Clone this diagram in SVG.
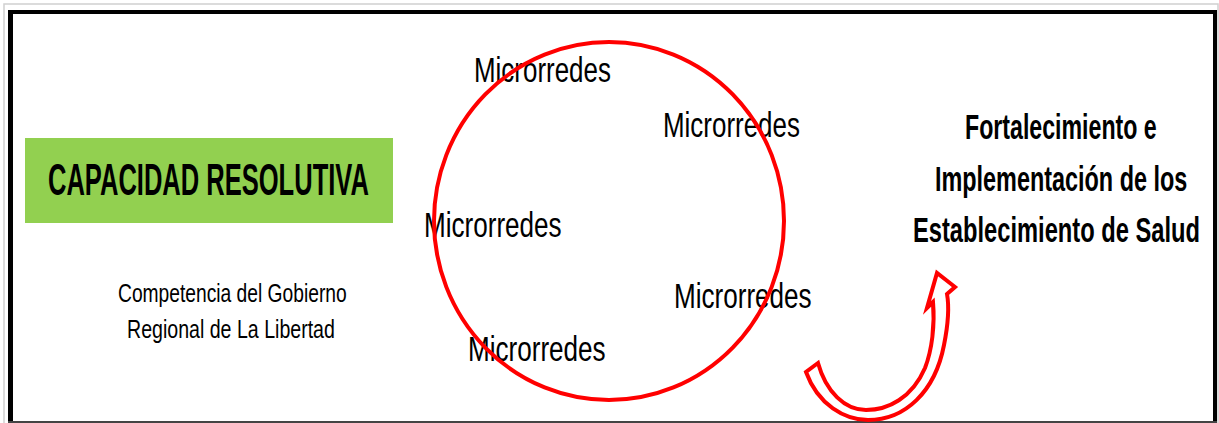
<svg xmlns="http://www.w3.org/2000/svg" width="1219" height="423" viewBox="0 0 1219 423">
<style>
text{font-family:"Liberation Sans","Liberation Sans Narrow",Arial,sans-serif;fill:#000}
.micro{font-size:35px}
.bold{font-size:35px;font-weight:bold}
.small{font-size:25px}
.title{font-size:44px;font-weight:bold}
</style>
<rect x="0" y="0" width="1219" height="423" fill="#fff"/>
<g id="frame">
<rect x="4" y="4" width="1214" height="420" fill="none" stroke="#d0d0d0" stroke-width="1.5"/>
<rect x="8" y="10" width="5" height="413" fill="#000"/>
<rect x="8" y="10" width="1209" height="4" fill="#000"/>
<rect x="1213" y="10" width="4" height="413" fill="#000"/>
<rect x="8" y="421" width="1209" height="2" fill="#444"/>
</g>
<g id="capacidad">
<rect x="25" y="138" width="368" height="85" fill="#92D050"/>
<text class="title" transform="translate(48,195) scale(0.573,1)" textLength="560" lengthAdjust="spacingAndGlyphs">CAPACIDAD RESOLUTIVA</text>
</g>
<g id="competencia">
<text class="small" transform="translate(118,302) scale(0.77,1)" textLength="297" lengthAdjust="spacingAndGlyphs">Competencia del Gobierno</text>
<text class="small" transform="translate(127,338) scale(0.77,1)" textLength="270" lengthAdjust="spacingAndGlyphs">Regional de La Libertad</text>
</g>
<g id="microrredes">
<text class="micro" transform="translate(474,82) scale(0.74,1)" textLength="185" lengthAdjust="spacingAndGlyphs">Microrredes</text>
<text class="micro" transform="translate(663,137) scale(0.74,1)" textLength="185" lengthAdjust="spacingAndGlyphs">Microrredes</text>
<text class="micro" transform="translate(424,237) scale(0.74,1)" textLength="186" lengthAdjust="spacingAndGlyphs">Microrredes</text>
<text class="micro" transform="translate(674,308) scale(0.74,1)" textLength="186" lengthAdjust="spacingAndGlyphs">Microrredes</text>
<text class="micro" transform="translate(468,361) scale(0.74,1)" textLength="186" lengthAdjust="spacingAndGlyphs">Microrredes</text>
</g>
<g id="circle">
<ellipse cx="609" cy="221" rx="175" ry="179" fill="none" stroke="#FF0000" stroke-width="4"/>
</g>
<g id="fortalecimiento">
<text class="bold" transform="translate(965,139) scale(0.68,1)" textLength="282" lengthAdjust="spacingAndGlyphs">Fortalecimiento e</text>
<text class="bold" transform="translate(935,191) scale(0.68,1)" textLength="371" lengthAdjust="spacingAndGlyphs">Implementación de los</text>
<text class="bold" transform="translate(913,242) scale(0.68,1)" textLength="422" lengthAdjust="spacingAndGlyphs">Establecimiento de Salud</text>
</g>
<g id="connectors">
<path d="M806,372 C818,405 845,420 868,420 C905,420 935,392 944,345 C948,325 949,305 947,294 L955,287 L937,273 L927,308 L933,302 C935,325 932,350 925,368 C912,398 888,410 866,410 C845,410 826,392 818,363 Z" fill="#fff" stroke="#FF0000" stroke-width="4" stroke-linejoin="miter"/>
</g>
</svg>
